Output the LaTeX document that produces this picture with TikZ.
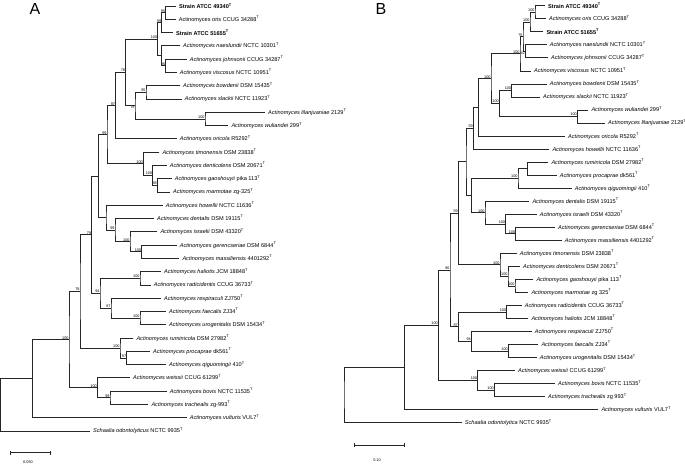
\documentclass[tikz,border=0pt]{standalone}
\usepackage{fontspec}
\setmainfont{Liberation Sans}
\usetikzlibrary{calc}
\tikzset{
  br/.style={draw=black!85, line width=0.7pt},
  leaf/.style={anchor=west, inner sep=0pt, xshift=3pt, font=\fontsize{5.6}{6}\selectfont},
  bs/.style={anchor=south east, inner sep=0.3pt, font=\fontsize{3.8}{4}\selectfont},
  sbl/.style={inner sep=0pt, font=\fontsize{3.8}{4}\selectfont},
  panel/.style={inner sep=0pt, font=\fontsize{16}{16}\selectfont},
}
\newcommand\Ty{\textsuperscript{T}}
\newcommand\Ac[1]{\textit{Actinomyces #1}}
\newcommand\leafA[4]{\coordinate (#1) at (#3,{6+13.28*(#2-1)}); \node[leaf] (t#1) at (#1) {#4};}
\newcommand\leafB[4]{\coordinate (#1) at (#3,{5.7+13.03*(#2-1)}); \node[leaf] (t#1) at (#1) {#4};}
% name, x, child1, child2, bootstrap, label options
\newcommand\inode[6]{%
  \path let \p1=(#3), \p2=(#4) in coordinate (#1) at ({#2pt},{(\y1+\y2)/2});
  \draw[br] (#3) -| (#1) |- (#4);
  \def\bstmp{#5}\ifx\bstmp\empty\else\node[bs,#6] (l#1) at (#1) {#5};\fi}
\begin{document}
\begin{tikzpicture}[x=1pt,y=-1pt]
\useasboundingbox (0,0) rectangle (685,466);
\node[panel] (panA) at (35,9) {A};
\node[panel] (panB) at (381,9) {B};
% ---------------- Tree A ----------------
\leafA{a49340}{1}{176}{\textbf{Strain ATCC 49340\Ty}}
\leafA{aoris}{2}{175.7}{Actinomyces oris CCUG 34288\Ty}
\leafA{a51655}{3}{173}{\textbf{Strain ATCC 51655\Ty}}
\leafA{anaes}{4}{180}{\Ac{naeslundii} NCTC 10301\Ty}
\leafA{ajohn}{5}{186.7}{\Ac{johnsonii} CCUG 34287\Ty}
\leafA{avisc}{6}{176.7}{\Ac{viscosus} NCTC 10951\Ty}
\leafA{abowd}{7}{180}{\Ac{bowdenii} DSM 15435\Ty}
\leafA{aslack}{8}{181.7}{\Ac{slackii} NCTC 11923\Ty}
\leafA{alil}{9}{265}{\Ac{lilanjuaniae} 2129\Ty}
\leafA{awul}{10}{228.3}{\Ac{wuliandei} 299\Ty}
\leafA{aori}{11}{176.7}{\Ac{oricola} R5292\Ty}
\leafA{atim}{12}{159.3}{\Ac{timonensis} DSM 23838\Ty}
\leafA{aden}{13}{166.7}{\Ac{denticolens} DSM 20671\Ty}
\leafA{agao}{14}{171.7}{\Ac{gaoshouyii} pika 113\Ty}
\leafA{amar}{15}{170}{\Ac{marmotae} zg-325\Ty}
\leafA{ahow}{16}{162.7}{\Ac{howellii} NCTC 11636\Ty}
\leafA{adent}{17}{154}{\Ac{dentalis} DSM 19115\Ty}
\leafA{aisr}{18}{157.3}{\Ac{israelii} DSM 43320\Ty}
\leafA{ager}{19}{176.7}{\Ac{gerencseriae} DSM 6844\Ty}
\leafA{amas}{20}{179.3}{\Ac{massiliensis} 4401292\Ty}
\leafA{ahal}{21}{161}{\Ac{haliotis} JCM 18848\Ty}
\leafA{arad}{22}{150.7}{\Ac{radicidentis} CCUG 36733\Ty}
\leafA{aresp}{23}{161}{\Ac{respiraculi} ZJ750\Ty}
\leafA{afae}{24}{166}{\Ac{faecalis} ZJ34\Ty}
\leafA{auro}{25}{166}{\Ac{urogenitalis} DSM 15434\Ty}
\leafA{arum}{26}{133.3}{\Ac{ruminicola} DSM 27982\Ty}
\leafA{apro}{27}{150}{\Ac{procaprae} dk561\Ty}
\leafA{aqig}{28}{166}{\Ac{qiguomingii} 410\Ty}
\leafA{awei}{29}{130}{\Ac{weissii} CCUG 61299\Ty}
\leafA{abov}{30}{166.7}{\Ac{bovis} NCTC 11535\Ty}
\leafA{atra}{31}{148.3}{\Ac{trachealis} zg-993\Ty}
\leafA{avul}{32}{186.7}{\Ac{vulturis} VUL7\Ty}
\leafA{asch}{33}{90}{\textit{Schaalia odontolyticus} NCTC 9935\Ty}
\inode{a1}{165.7}{a49340}{aoris}{95}{}
\inode{a2}{161.7}{a1}{a51655}{99}{}
\inode{a3}{165.7}{ajohn}{avisc}{96}{}
\inode{a4}{161.7}{anaes}{a3}{}{}
\inode{a5}{157.7}{a2}{a4}{100}{}
\inode{ab}{146}{abowd}{aslack}{95}{}
\inode{alw}{205}{alil}{awul}{100}{}
\inode{aX}{135}{ab}{alw}{79}{anchor=north east}
\inode{a6}{125.5}{a5}{aX}{78}{}
\inode{a115}{115.5}{a6}{aori}{97}{}
\inode{at3}{157.3}{agao}{amar}{98}{}
\inode{at2}{152.7}{aden}{at3}{100}{}
\inode{at1}{143.3}{atim}{at2}{100}{}
\inode{a106}{107}{a115}{at1}{99}{}
\inode{ad3}{141.7}{ager}{amas}{100}{}
\inode{ad2}{130}{aisr}{ad3}{100}{}
\inode{ad1}{115}{adent}{ad2}{99}{}
\inode{aH}{106}{ahow}{ad1}{}{}
\inode{a99}{98.5}{a106}{aH}{}{}
\inode{ah1}{140}{ahal}{arad}{100}{}
\inode{af1}{140}{afae}{auro}{100}{}
\inode{arsp}{111}{aresp}{af1}{87}{}
\inode{a100}{100}{ah1}{arsp}{94}{}
\inode{a91}{91.7}{a99}{a100}{79}{}
\inode{ar2}{126.7}{apro}{aqig}{97}{}
\inode{ar1}{120}{arum}{ar2}{100}{}
\inode{a80}{80}{a91}{ar1}{78}{}
\inode{aw2}{110}{abov}{atra}{99}{}
\inode{aw1}{97.3}{awei}{aw2}{100}{}
\inode{a69}{69}{a80}{aw1}{100}{}
\inode{a32}{32.3}{a69}{avul}{}{}
\inode{aroot}{0.8}{a32}{asch}{}{}
% scale bar A
\coordinate (sA1) at (10.7,452.7);
\coordinate (sA2) at (50.7,452.7);
\draw[br] (sA1) -- (sA2);
\draw[br] ([yshift=2pt]sA1) -- ([yshift=-2pt]sA1);
\draw[br] ([yshift=2pt]sA2) -- ([yshift=-2pt]sA2);
\node[sbl] (sAl) at (28,462) {0.050};
% ---------------- Tree B ----------------
\leafB{b49340}{1}{545}{\textbf{Strain ATCC 49340\Ty}}
\leafB{boris}{2}{546}{\Ac{oris} CCUG 34288\Ty}
\leafB{b51655}{3}{543.3}{\textbf{Strain ATCC 51655\Ty}}
\leafB{bnaes}{4}{546.7}{\Ac{naeslundii} NCTC 10301\Ty}
\leafB{bjohn}{5}{548}{\Ac{johnsonii} CCUG 34287\Ty}
\leafB{bvisc}{6}{531}{\Ac{viscosus} NCTC 10951\Ty}
\leafB{bbowd}{7}{546.7}{\Ac{bowdenii} DSM 15435\Ty}
\leafB{bslack}{8}{540}{\Ac{slackii} NCTC 11923\Ty}
\leafB{bwul}{9}{588.3}{\Ac{wuliandei} 299\Ty}
\leafB{blil}{10}{605}{\Ac{lilanjuaniae} 2129\Ty}
\leafB{bori}{11}{565}{\Ac{oricola} R5292\Ty}
\leafB{bhow}{12}{549.3}{\Ac{howellii} NCTC 11636\Ty}
\leafB{brum}{13}{548.3}{\Ac{ruminicola} DSM 27982\Ty}
\leafB{bpro}{14}{556.7}{\Ac{procaprae} dk561\Ty}
\leafB{bqig}{15}{571.7}{\Ac{qiguomingii} 410\Ty}
\leafB{bdent}{16}{529.3}{\Ac{dentalis} DSM 19115\Ty}
\leafB{bisr}{17}{536.7}{\Ac{israelii} DSM 43320\Ty}
\leafB{bger}{18}{555}{\Ac{gerencseriae} DSM 6844\Ty}
\leafB{bmas}{19}{561.7}{\Ac{massiliensis} 4401292\Ty}
\leafB{btim}{20}{516.7}{\Ac{timonensis} DSM 23838\Ty}
\leafB{bden}{21}{520}{\Ac{denticolens} DSM 20671\Ty}
\leafB{bgao}{22}{533.3}{\Ac{gaoshouyii} pika 113\Ty}
\leafB{bmar}{23}{528.3}{\Ac{marmotae} zg 325\Ty}
\leafB{brad}{24}{521.7}{\Ac{radicidentis} CCUG 36733\Ty}
\leafB{bhal}{25}{528.3}{\Ac{haliotis} JCM 18848\Ty}
\leafB{bresp}{26}{531.7}{\Ac{respiraculi} ZJ750\Ty}
\leafB{bfae}{27}{538.3}{\Ac{faecalis} ZJ34\Ty}
\leafB{buro}{28}{536.7}{\Ac{urogenitalis} DSM 15434\Ty}
\leafB{bwei}{29}{515}{\Ac{weissii} CCUG 61299\Ty}
\leafB{bbov}{30}{555}{\Ac{bovis} NCTC 11535\Ty}
\leafB{btra}{31}{545}{\Ac{trachealis} zg 993\Ty}
\leafB{bvul}{32}{598.3}{\Ac{vulturis} VUL7\Ty}
\leafB{bsch}{33}{461.7}{\textit{Schaalia odontolytica} NCTC 9935\Ty}
\inode{b1}{535}{b49340}{boris}{100}{}
\inode{b2}{530}{b1}{b51655}{100}{}
\inode{b3}{525.3}{bnaes}{bjohn}{62}{anchor=north east}
\inode{b4}{523}{b2}{b3}{75}{}
\inode{b5}{520}{b4}{bvisc}{100}{}
\inode{b7}{511.7}{bbowd}{bslack}{100}{}
\inode{b8}{577.3}{bwul}{blil}{100}{}
\inode{b9}{499.3}{b7}{b8}{100}{}
\inode{b6}{491}{b5}{b9}{100}{}
\inode{b10}{478.5}{b6}{bori}{}{}
\inode{b11}{473.3}{b10}{bhow}{59}{}
\inode{r1}{527.7}{brum}{bpro}{}{}
\inode{r2}{518}{r1}{bqig}{100}{}
\inode{d3}{515.7}{bger}{bmas}{100}{}
\inode{d2}{505.7}{bisr}{d3}{100}{}
\inode{d1}{485}{bdent}{d2}{100}{}
\inode{b13}{471.7}{r2}{d1}{}{}
\inode{b12}{466}{b11}{b13}{}{}
\inode{t3}{515}{bgao}{bmar}{100}{}
\inode{t2}{508}{bden}{t3}{100}{}
\inode{t1}{500}{btim}{t2}{100}{}
\inode{b14}{458.3}{b12}{t1}{59}{}
\inode{h1}{506.7}{brad}{bhal}{100}{}
\inode{f1}{508.3}{bfae}{buro}{100}{}
\inode{resp1}{471.3}{bresp}{f1}{94}{}
\inode{n87}{458.3}{h1}{resp1}{87}{}
\inode{b15}{450}{b14}{n87}{86}{}
\inode{w2}{494.3}{bbov}{btra}{100}{}
\inode{w1}{477.7}{bwei}{w2}{100}{}
\inode{b16}{438.3}{b15}{w1}{100}{}
\inode{br2}{404.5}{b16}{bvul}{}{}
\inode{broot}{344}{br2}{bsch}{}{}
% scale bar B
\coordinate (sB1) at (354,445);
\coordinate (sB2) at (404.3,445);
\draw[br] (sB1) -- (sB2);
\draw[br] ([yshift=2pt]sB1) -- ([yshift=-2pt]sB1);
\draw[br] ([yshift=2pt]sB2) -- ([yshift=-2pt]sB2);
\node[sbl] (sBl) at (377,460) {0.10};
\end{tikzpicture}
\end{document}
